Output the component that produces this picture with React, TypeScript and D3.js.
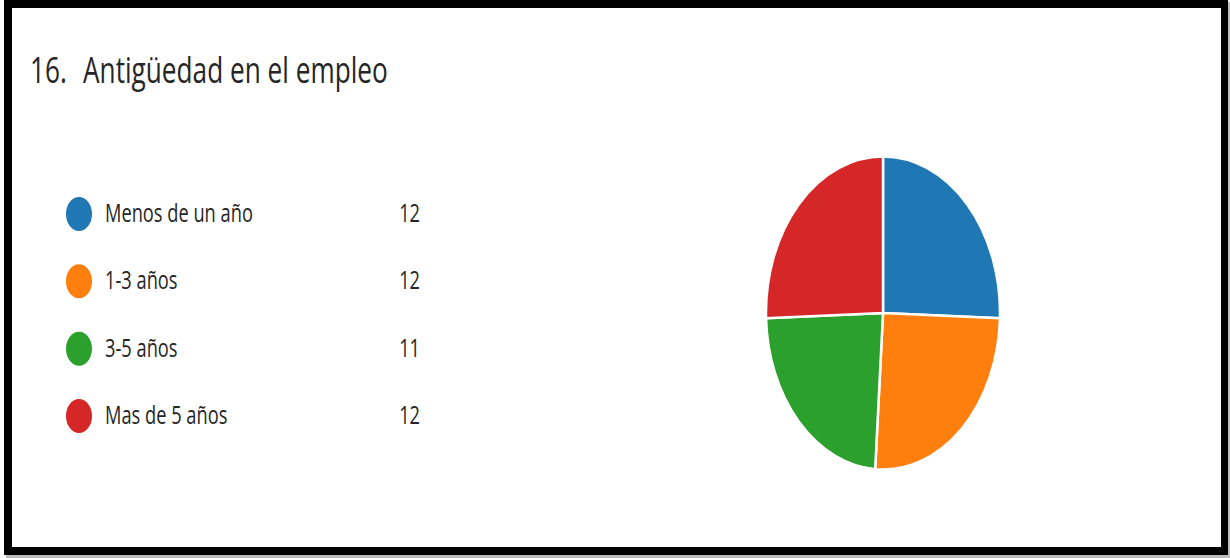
import React, { useEffect, useRef } from "react";
import * as d3 from "d3";

const title = "Antigüedad en el empleo";
const titleNumber = "16.";
const categories = ["Menos de un año", "1-3 años", "3-5 años", "Mas de 5 años"];
const values = [12, 12, 11, 12];
const colors = ["#1f77b4", "#ff7f0e", "#2ca02c", "#d62728"];

const W = 1230;
const H = 558;

export default function App() {
  const ref = useRef<SVGSVGElement | null>(null);

  useEffect(() => {
    const svg = d3.select(ref.current);
    svg.selectAll("*").remove();
    const font = "'Open Sans', sans-serif";
    const textColor = "#262626";

    // shadow + frame
    svg.append("rect").attr("x", 6).attr("y", 2).attr("width", 1224).attr("height", 556).attr("fill", "#bdbdbd");
    svg.append("rect").attr("x", 4).attr("y", 0).attr("width", 1224).attr("height", 555).attr("fill", "#000");
    svg.append("rect").attr("x", 12).attr("y", 8).attr("width", 1209).attr("height", 539).attr("fill", "#fff");

    // helper: squeezed text
    const addText = (x: number, y: number, txt: string, size: number, anchor: string, targetW: number | null, sx: number) => {
      const g = svg.append("g").attr("transform", `translate(${x},${y})`);
      const t = g.append("text")
        .attr("font-family", font).attr("font-size", size).attr("fill", textColor)
        .attr("text-anchor", anchor).text(txt);
      let s = sx;
      if (targetW != null) {
        const w = (t.node() as SVGTextElement).getComputedTextLength();
        s = targetW / w;
      }
      g.attr("transform", `translate(${x},${y}) scale(${s},1)`);
      return s;
    };

    // title
    const ts = addText(83, 83, title, 36, "start", 305, 1);
    addText(30, 83, titleNumber, 36, "start", null, ts);

    // legend
    const legendY = d3.scaleLinear().domain([0, categories.length - 1]).range([214, 416]);
    let ls = 1;
    categories.forEach((c, i) => {
      const cy = legendY(i);
      svg.append("ellipse").attr("cx", 79).attr("cy", cy).attr("rx", 13).attr("ry", 17).attr("fill", colors[i]);
      if (i === 0) ls = addText(105, cy + 8, c, 25, "start", 148, 1);
      else addText(105, cy + 8, c, 25, "start", null, ls);
      addText(420, cy + 8, String(values[i]), 25, "end", null, ls);
    });

    // pie
    const rx = 117, ry = 156.5;
    const pie = d3.pie<number>().sort(null).value((d) => d);
    const arc = d3.arc<d3.PieArcDatum<number>>().innerRadius(0).outerRadius(rx);
    const pg = svg.append("g").attr("transform", `translate(883,313) scale(1,${ry / rx})`);
    pg.selectAll("path").data(pie(values)).enter().append("path")
      .attr("d", arc as any)
      .attr("fill", (_d, i) => colors[i])
      .attr("stroke", "#fff").attr("stroke-width", 2.5)
      .attr("vector-effect", "non-scaling-stroke");
  }, []);

  return (
    <svg ref={ref} width={W} height={H} style={{ position: "absolute", left: 0, top: 0, display: "block" }} />
  );
}
